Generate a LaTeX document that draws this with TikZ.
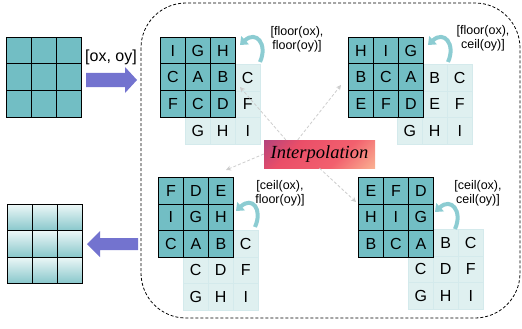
\documentclass[tikz,border=0pt]{standalone}
\usepackage{fontspec}
\setmainfont{Liberation Sans}
\newfontfamily\interpfont{Liberation Serif}
\usetikzlibrary{positioning,arrows.meta,shadings}

\definecolor{cellteal}{RGB}{114,190,196}
\definecolor{celllight}{RGB}{223,240,240}
\definecolor{celledge}{RGB}{212,234,236}
\definecolor{outtop}{RGB}{236,247,247}
\definecolor{outbottom}{RGB}{136,199,203}
\definecolor{blockblue}{RGB}{115,115,207}
\definecolor{curlteal}{RGB}{140,204,210}
\definecolor{ghostgray}{RGB}{205,205,205}
\definecolor{interppurple}{RGB}{140,60,140}
\definecolor{interpred}{RGB}{234,78,104}
\definecolor{interppink}{RGB}{242,96,110}
\definecolor{interppeach}{RGB}{255,228,168}
\pgfdeclarehorizontalshading{interpshade}{100bp}{color(0bp)=(interppurple); color(34bp)=(interpred); color(62bp)=(interppink); color(100bp)=(interppeach)}

% 3x3 grid of letter cells: name, left, top, style, rows
\newcommand{\cellgrid}[5]{%
  \foreach \row [count=\rw from 0] in {#5} {
    \foreach \t [count=\col from 0] in \row {
      \node[#4] (#1-\rw-\col) at ({#2+\col*25},{#3+\rw*26.5}) {\t};
    }
  }
}

\begin{document}
\begin{tikzpicture}[x=1pt, y=-1pt,
  tealcell/.style={draw=black, line width=0.9pt, fill=cellteal, minimum width=25pt, minimum height=26.5pt, inner sep=0pt, anchor=north west, font=\fontsize{16}{16}\selectfont},
  lightcell/.style={draw=celledge, line width=0.5pt, fill=celllight, minimum width=25pt, minimum height=26.5pt, inner sep=0pt, anchor=north west, font=\fontsize{16}{16}\selectfont},
  outcell/.style={draw=black, line width=0.9pt, top color=outtop, bottom color=outbottom, minimum width=25pt, minimum height=26.3pt, inner sep=0pt, anchor=north west},
  curl/.style={draw=curlteal, line width=4pt, -{Triangle[width=11pt,length=7pt]}},
  ghost/.style={draw=ghostgray, line width=0.8pt, dash pattern=on 3pt off 2pt, -{Stealth[length=5pt,width=5pt]}},
  tag/.style={align=center, inner sep=0pt, font=\fontsize{12.5}{14}\selectfont}]
\useasboundingbox (0,0) rectangle (522,329);

% processing region
\draw[line width=0.8pt, dash pattern=on 3pt off 2pt, rounded corners=45pt] (141,3) rectangle (520,318);

% input and output
\cellgrid{in}{6}{37}{tealcell}{{{},{},{}},{{},{},{}},{{},{},{}}}
\node (offset) [font=\fontsize{16}{16}\selectfont, inner sep=0pt] at (111,57) {[ox, oy]};
\fill[blockblue] (86,73) -- (125,73) -- (125,67) -- (137,80) -- (125,93) -- (125,87) -- (86,87) -- cycle;
\foreach \rw in {0,1,2} {
  \foreach \col in {0,1,2} {
    \node[outcell] (out-\rw-\col) at ({7+\col*25},{204+\rw*26.3}) {};
  }
}
\fill[blockblue] (138,238) -- (100,238) -- (100,231) -- (87,244) -- (100,257) -- (100,250) -- (138,250) -- cycle;

% four neighbourhoods
\cellgrid{tlb}{185}{64}{lightcell}{{{},{},C},{{},{},F},{G,H,I}}
\cellgrid{tl}{160}{37}{tealcell}{{I,G,H},{C,A,B},{F,C,D}}
\cellgrid{trb}{397}{64}{lightcell}{{{},B,C},{{},E,F},{G,H,I}}
\cellgrid{tr}{348}{37}{tealcell}{{H,I,G},{B,C,A},{E,F,D}}
\cellgrid{blb}{183}{230}{lightcell}{{{},{},C},{C,D,F},{G,H,I}}
\cellgrid{bl}{158}{177}{tealcell}{{F,D,E},{I,G,H},{C,A,B}}
\cellgrid{brb}{408}{229}{lightcell}{{{},B,C},{C,D,F},{G,H,I}}
\cellgrid{br}{358}{177}{tealcell}{{E,F,D},{H,I,G},{B,C,A}}

% shifts
\coordinate (tl-from) at (260,62);
\coordinate (tl-to) at (240,45);
\coordinate (tr-from) at (448,62);
\coordinate (tr-to) at (428,45);
\coordinate (bl-from) at (255,227);
\coordinate (bl-to) at (236,211);
\coordinate (br-from) at (455,229);
\coordinate (br-to) at (435,212);
\draw[curl] (tl-from) .. controls +(8,-18) and +(16,-15) .. (tl-to);
\draw[curl] (tr-from) .. controls +(8,-18) and +(16,-15) .. (tr-to);
\draw[curl] (bl-from) .. controls +(8,-18) and +(16,-15) .. (bl-to);
\draw[curl] (br-from) .. controls +(8,-18) and +(16,-15) .. (br-to);
\node (tl-tag) [tag] at (297,39) {[floor(ox),\\floor(oy)]};
\node (tr-tag) [tag] at (483,38) {[floor(ox),\\ceil(oy)]};
\node (bl-tag) [tag] at (280,193) {[ceil(ox),\\floor(oy)]};
\node (br-tag) [tag] at (478,193) {[ceil(ox),\\ceil(oy)]};

% interpolation
\node (interp) [shading=interpshade, shading angle=-45, minimum width=111pt, minimum height=28pt, inner sep=0pt, font=\interpfont\itshape\fontsize{18.5}{18.5}\selectfont] at (319.5,154) {Interpolation};
\coordinate (tl-ghost) at (240,87);
\coordinate (tr-ghost) at (341,85);
\coordinate (bl-ghost) at (226,170);
\coordinate (br-ghost) at (356,202);
\draw[ghost] ([xshift=22pt]interp.north west) -- (tl-ghost);
\draw[ghost] ([xshift=34pt]interp.north west) -- (tr-ghost);
\draw[ghost] (interp.west) -- (bl-ghost);
\draw[ghost] (interp.south) -- (br-ghost);
\end{tikzpicture}
\end{document}
